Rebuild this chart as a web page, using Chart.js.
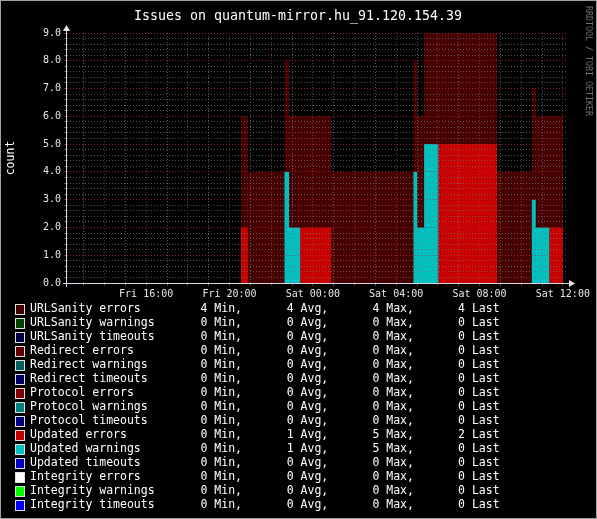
<!DOCTYPE html>
<html>
<head>
<meta charset="utf-8">
<title>Issues on quantum-mirror.hu_91.120.154.39</title>
<script src="https://cdn.jsdelivr.net/npm/chart.js@4.4.1/dist/chart.umd.min.js"></script>
<style>
  html, body { margin: 0; padding: 0; background: #000; }
  canvas { display: block; }
</style>
</head>
<body>
<canvas id="chart" width="597" height="519"></canvas>
<script>
const MONO = '"DejaVu Sans Mono", "Liberation Mono", monospace';

const chartTitle = 'Issues on quantum-mirror.hu_91.120.154.39';
const yAxisTitle = 'count';
const watermark = 'RRDTOOL / TOBI OETIKER';

// hours after Fri 12:00 at which one of the graphed values changes
const stepHours       = [8.55, 8.88, 10.64, 10.86, 11.39, 12.88, 16.83, 17.01, 17.34, 18.03, 20.84, 22.51, 22.70, 23.35, 24.0];
const totalIssues     = [6, 4, 8, 6, 6, 4, 8, 6, 9, 9, 4, 7, 6, 6, 6];
const updatedErrors   = [2, 0, 0, 0, 2, 0, 0, 0, 0, 5, 0, 0, 0, 2, 2];
const updatedWarnings = [0, 0, 4, 2, 0, 0, 4, 2, 5, 0, 0, 3, 2, 0, 0];

const xStartHour = 0.2;
const xEndHour = 24.2;
const labelHours = [4, 8, 12, 16, 20, 24];
const timeLabels = ['Fri 16:00', 'Fri 20:00', 'Sat 00:00', 'Sat 04:00', 'Sat 08:00', 'Sat 12:00'];
const gridHours = Array.from({ length: 24 }, (_, i) => i + 1);
const yGridValues = Array.from({ length: 46 }, (_, i) => i * 2 / 10);

const legendNames = [
    'URLSanity errors', 'URLSanity warnings', 'URLSanity timeouts',
    'Redirect errors', 'Redirect warnings', 'Redirect timeouts',
    'Protocol errors', 'Protocol warnings', 'Protocol timeouts',
    'Updated errors', 'Updated warnings', 'Updated timeouts',
    'Integrity errors', 'Integrity warnings', 'Integrity timeouts',
];
const legendColors = [
    '#400000', '#004000', '#000040',
    '#600000', '#006060', '#000060',
    '#800000', '#008080', '#000080',
    '#c00000', '#00c0c0', '#0000c0',
    '#ffffff', '#00ff00', '#0000ff',
];
const legendMin  = [4, 0, 0, 0, 0, 0, 0, 0, 0, 0, 0, 0, 0, 0, 0];
const legendAvg  = [4, 0, 0, 0, 0, 0, 0, 0, 0, 1, 1, 0, 0, 0, 0];
const legendMax  = [4, 0, 0, 0, 0, 0, 0, 0, 0, 5, 5, 0, 0, 0, 0];
const legendLast = [4, 0, 0, 0, 0, 0, 0, 0, 0, 2, 0, 0, 0, 0, 0];

const majorGrid = 'rgba(170, 50, 50, 0.75)';
const minorGrid = 'rgba(120, 120, 120, 0.7)';

function toPoints(values) {
    return stepHours.map((h, i) => ({ x: h, y: values[i] }));
}

function isWhole(v) {
    return Math.abs(v - Math.round(v)) < 1e-6;
}

function area(label, values, color) {
    return {
        label,
        data: toPoints(values),
        stepped: true,
        fill: 'origin',
        backgroundColor: color,
        borderColor: 'rgba(0,0,0,0)',
        borderWidth: 0,
        pointRadius: 0,
    };
}

const rrdDecor = {
    id: 'rrdDecor',
    beforeDraw(chart) {
        const { ctx, width, height } = chart;
        ctx.save();
        ctx.fillStyle = '#000';
        ctx.fillRect(0, 0, width, height);
        ctx.restore();
    },
    afterDraw(chart) {
        const { ctx, width, height, chartArea } = chart;
        const { left, right, top, bottom } = chartArea;
        ctx.save();

        // axes with arrows
        ctx.strokeStyle = '#d8d8e8';
        ctx.lineWidth = 1;
        ctx.beginPath();
        ctx.moveTo(left - 4, bottom + 0.5);
        ctx.lineTo(right + 2, bottom + 0.5);
        ctx.moveTo(left - 0.5, bottom + 4);
        ctx.lineTo(left - 0.5, top - 3);
        ctx.stroke();
        ctx.fillStyle = '#e8e8e8';
        ctx.beginPath();
        ctx.moveTo(left - 4, top - 2);
        ctx.lineTo(left + 3, top - 2);
        ctx.lineTo(left - 0.5, top - 8);
        ctx.closePath();
        ctx.fill();
        ctx.beginPath();
        ctx.moveTo(right + 2, bottom - 3);
        ctx.lineTo(right + 2, bottom + 4);
        ctx.lineTo(right + 8, bottom + 0.5);
        ctx.closePath();
        ctx.fill();

        // title
        ctx.fillStyle = '#ffffff';
        ctx.font = '13.3px ' + MONO;
        ctx.textAlign = 'center';
        ctx.textBaseline = 'alphabetic';
        ctx.fillText(chartTitle, 298, 19.5);

        // vertical axis title
        ctx.save();
        ctx.translate(14, 158);
        ctx.rotate(-Math.PI / 2);
        ctx.font = '11.5px ' + MONO;
        ctx.fillText(yAxisTitle, 0, 0);
        ctx.restore();

        // watermark on the right
        ctx.save();
        ctx.translate(585.5, 6);
        ctx.rotate(Math.PI / 2);
        ctx.fillStyle = '#707070';
        ctx.font = '8.3px ' + MONO;
        ctx.textAlign = 'left';
        ctx.fillText(watermark, 0, 0);
        ctx.restore();

        // legend with statistics
        ctx.font = '11.5px ' + MONO;
        ctx.textBaseline = 'middle';
        for (let i = 0; i < legendNames.length; i++) {
            const y = 309.5 + i * 14;
            ctx.fillStyle = legendColors[i];
            ctx.fillRect(16, y - 4.5, 8, 9);
            ctx.strokeStyle = '#e0e0e0';
            ctx.strokeRect(15.5, y - 5, 9, 10);
            ctx.fillStyle = '#ffffff';
            ctx.textAlign = 'left';
            ctx.fillText(legendNames[i], 30, y);
            ctx.fillText(legendMin[i] + ' Min,', 200.5, y);
            ctx.fillText(legendAvg[i] + ' Avg,', 286.7, y);
            ctx.fillText(legendMax[i] + ' Max,', 372.4, y);
            ctx.fillText(legendLast[i] + ' Last', 458.1, y);
        }

        // frame
        ctx.strokeStyle = '#a0a0a0';
        ctx.strokeRect(0.5, 0.5, width - 1, height - 1);
        ctx.restore();
    },
};

new Chart(document.getElementById('chart'), {
    type: 'line',
    data: {
        datasets: [
            area('Updated warnings', updatedWarnings, '#00c0c0'),
            area('Updated errors', updatedErrors, '#c80000'),
            area('All issues', totalIssues, '#460000'),
        ],
    },
    options: {
        responsive: false,
        animation: false,
        events: [],
        layout: { padding: { left: 0, top: 33, right: 30, bottom: 0 } },
        plugins: {
            legend: { display: false },
            tooltip: { enabled: false },
            title: { display: false },
        },
        scales: {
            x: {
                type: 'linear',
                min: xStartHour,
                max: xEndHour,
                afterFit: s => { s.height = 236; },
                afterBuildTicks: s => { s.ticks = gridHours.map(v => ({ value: v })); },
                border: { display: false, dash: [1, 2] },
                grid: {
                    z: 1,
                    color: c => (c.tick && c.tick.value % 2 === 0 ? majorGrid : minorGrid),
                    tickLength: 3,
                },
                ticks: {
                    autoSkip: false,
                    maxRotation: 0,
                    padding: 2,
                    color: '#e8e8e8',
                    font: { family: MONO, size: 10 },
                    callback: v => {
                        const i = labelHours.indexOf(v);
                        return i < 0 ? '' : timeLabels[i];
                    },
                },
            },
            y: {
                min: 0,
                max: 9,
                afterFit: s => { s.width = 67; },
                afterBuildTicks: s => { s.ticks = yGridValues.map(v => ({ value: v })); },
                border: { display: false, dash: [1, 2] },
                grid: {
                    z: 1,
                    color: c => (c.tick && isWhole(c.tick.value) ? majorGrid : minorGrid),
                    tickLength: 3,
                },
                ticks: {
                    autoSkip: false,
                    padding: 3,
                    color: '#e8e8e8',
                    font: { family: MONO, size: 10 },
                    callback: v => (isWhole(v) ? v.toFixed(1) : ''),
                },
            },
        },
    },
    plugins: [rrdDecor],
});
</script>
</body>
</html>
